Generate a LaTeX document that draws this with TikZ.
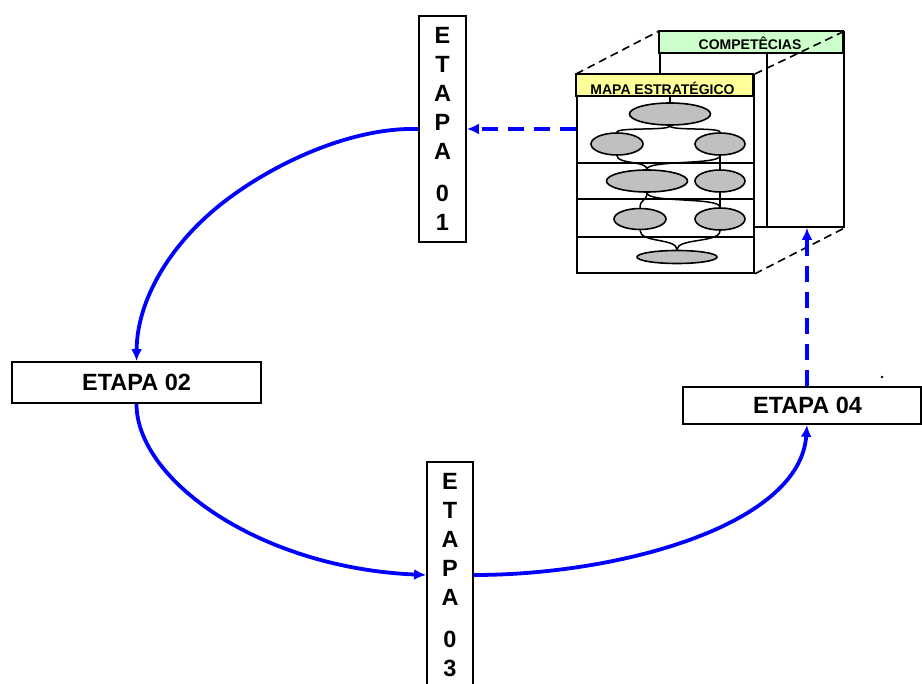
\documentclass[tikz,border=0pt]{standalone}
\usepackage{fontspec}
\setmainfont{Liberation Sans}
\usetikzlibrary{arrows.meta,shapes.geometric}
\definecolor{flowblue}{RGB}{0,0,255}
\definecolor{mapyellow}{RGB}{255,255,153}
\definecolor{compgreen}{RGB}{204,255,204}
\definecolor{objgray}{RGB}{192,192,192}

\begin{document}
\begin{tikzpicture}[x=1pt,y=-1pt,
  stagebox/.style={draw=black, line width=1.8pt, fill=white, inner sep=0pt,
    font=\fontsize{23.5}{29}\selectfont\bfseries, align=center},
  panel/.style={draw=black, line width=1.8pt, fill=white, inner sep=0pt, anchor=north west},
  thinline/.style={draw=black, line width=1.7pt},
  objell/.style={ellipse, draw=black, line width=1.6pt, fill=objgray, inner sep=0pt},
  link/.style={draw=black, line width=1.5pt},
  depth/.style={draw=black, line width=1.6pt, dash pattern=on 8pt off 5pt},
  paneltitle/.style={font=\fontsize{14}{16}\selectfont\bfseries, anchor=base, inner sep=0pt},
  flow/.style={draw=flowblue, line width=3.8pt, -{Latex[length=12pt,width=11pt]}},
  flowdash/.style={flow, dash pattern=on 16pt off 10pt},
]
\useasboundingbox (0,0) rectangle (922,684);
\clip (0,0) rectangle (922,684);

% ---- stages ----
\node[stagebox, minimum width=47, minimum height=226] (e1) at (442.5,129)
  {E\\T\\A\\P\\A\\[13pt]0\\1};
\node[stagebox, minimum width=249, minimum height=41] (e2) at (136.5,382.5) {ETAPA 02};
\node[stagebox, minimum width=46, minimum height=226] (e3) at (450,575)
  {E\\T\\A\\P\\A\\[13pt]0\\3};
\node[stagebox, minimum width=238, minimum height=37] (e4) at (802,405.5)
  {\hspace*{11pt}ETAPA 04};
\fill (882,377) circle[radius=1.3pt];

% ---- back panel: competences ----
\node[panel, minimum width=184, minimum height=195] (comp) at (659,31) {};
\draw[thinline, fill=compgreen] (659,31) rectangle (843,53);
\draw[thinline] (767,53) -- (767,226);
\node[paneltitle] (comptitle) at (750,50) {COMPETÊCIAS};

% ---- front panel: strategy map ----
\node[panel, minimum width=177, minimum height=198] (mapa) at (576,74) {};
\draw[thinline, fill=mapyellow] (576,74) rectangle (753,96);
\draw[thinline] (576,163) -- (753,163);
\draw[thinline] (576,199) -- (753,199);
\draw[thinline] (576,237) -- (753,237);
\node[paneltitle] (mapatitle) at (662.5,95) {MAPA ESTRATÉGICO};

% objectives
\node[objell, minimum width=81, minimum height=22] (o1) at (670,114) {};
\node[objell, minimum width=52, minimum height=22] (o2) at (617,144) {};
\node[objell, minimum width=50, minimum height=22] (o3) at (720,144) {};
\node[objell, minimum width=81, minimum height=22] (o4) at (647,181) {};
\node[objell, minimum width=50, minimum height=22] (o5) at (720,181) {};
\node[objell, minimum width=52, minimum height=21] (o6) at (640,219) {};
\node[objell, minimum width=50, minimum height=22] (o7) at (720,219) {};
\node[objell, minimum width=80, minimum height=13] (o8) at (677,257) {};

% cause-effect links
\draw[link] (o1.north) -- ++(0,-7);
\draw[link] (o1.south) .. controls (670,131) and (617,127) .. (o2.north);
\draw[link] (o1.south) .. controls (670,131) and (720,127) .. (o3.north);
\draw[link] (o2.south) .. controls (617,164) and (647,161) .. (o4.north);
\draw[link] (o3.south) .. controls (720,165) and (647,160) .. (o4.north);
\draw[link] (o3.south) -- (o5.north);
\draw[link] (o4.south) .. controls (647,201) and (640,199) .. (o6.north);
\draw[link] (o4.south) .. controls (647,203) and (720,197) .. (o7.north);
\draw[link] (o5.south) -- (o7.north);
\draw[link] (o6.south) .. controls (640,243) and (677,238) .. (o8.north);
\draw[link] (o7.south) .. controls (720,243) and (677,238) .. (o8.north);

% perspective edges
\draw[depth] (mapa.north west) -- (comp.north west);
\draw[depth] (mapa.north east) -- (comp.north east);
\draw[depth] (mapa.south east) -- (comp.south east);

% ---- flow between stages ----
\draw[flow] (e1.west) .. controls (350,127) and (270,165) .. (220,205)
  .. controls (170,245) and (137,300) .. (e2.north);
\draw[flow] (e2.south) .. controls (136.5,480) and (260,568) .. (e3.west);
\draw[flow] (e3.east) .. controls (620,575) and (800,525) .. ([xshift=5pt]e4.south);
\draw[flowdash] ([xshift=5pt]e4.north) -- ([xshift=5pt]e4.north |- comp.south);
\draw[flowdash] (mapa.west |- e1.east) -- (e1.east);
\end{tikzpicture}
\end{document}
